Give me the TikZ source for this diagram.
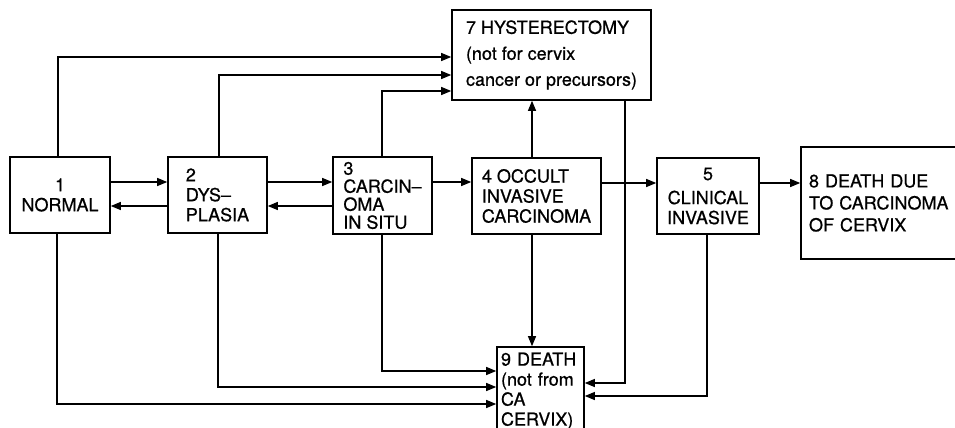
\documentclass[tikz,border=0pt]{standalone}
\usepackage{fontspec}
\setmainfont{TeX Gyre Heros}[FakeBold=0.7]
\usetikzlibrary{arrows.meta}
\begin{document}
\begin{tikzpicture}[x=1pt,y=-1pt,
  box/.style={draw, line width=1.6pt, inner sep=0pt, align=center,
    font=\fontsize{18}{20}\selectfont},
  lbox/.style={box, align=left},
  arr/.style={line width=1.1pt, -{Triangle[length=10pt,width=8pt]}},
  ln/.style={line width=1.1pt}]
\useasboundingbox (0,0) rectangle (955,428);
\clip (0,0) rectangle (955,428);
\fill[white] (0,0) rectangle (955,428);
% boxes
\node[box, minimum width=100pt, minimum height=76pt] (n1) at (60,195) {1\\NORMAL};
\node[lbox, minimum width=99pt, minimum height=76pt] (n2) at (217.5,195) {2\\DYS–\\PLASIA};
\node[lbox, minimum width=99pt, minimum height=77pt, font=\fontsize{18}{18}\selectfont] (n3) at (382.5,195.5) {3\\CARCIN–\\OMA\\IN SITU};
\node[lbox, minimum width=129pt, minimum height=76pt] (n4) at (536.5,196) {4 OCCULT\\INVASIVE\\CARCINOMA};
\node[box, minimum width=102pt, minimum height=76pt] (n5) at (708,196) {5\\[4pt]CLINICAL\\INVASIVE};
\node[lbox, minimum width=199pt, minimum height=90pt, font=\fontsize{18}{26}\selectfont] (n7) at (551.5,55) {7 HYSTERECTOMY\\(not for cervix\\cancer or precursors)};
\node[lbox, minimum width=200pt, minimum height=112pt, text width=184pt, inner xsep=8pt, font=\fontsize{18}{22}\selectfont] (n8) at (901,203) {8 DEATH DUE\\TO CARCINOMA\\OF CERVIX};
\node[lbox, minimum width=85pt, minimum height=88pt, text width=79pt, inner xsep=4pt] (n9) at (540.5,391) {9 DEATH\\(not from\\CA\\CERVIX)};
% horizontal progressions / regressions
\draw[arr] (n1.east |- 0,182) -- (n2.west |- 0,182);
\draw[arr] (n2.west |- 0,206) -- (n1.east |- 0,206);
\draw[arr] (n2.east |- 0,182) -- (n3.west |- 0,182);
\draw[arr] (n3.west |- 0,206) -- (n2.east |- 0,206);
\draw[arr] (n3.east |- 0,182) -- (n4.west |- 0,182);
\draw[arr] (n4.east |- 0,183) -- (n5.west |- 0,183);
\draw[arr] (n5.east |- 0,183) -- (n8.west |- 0,183);
% to hysterectomy
\draw[arr] (n1.north -| 58,0) |- (n7.west |- 0,57);
\draw[arr] (n2.north -| 219,0) |- (n7.west |- 0,75);
\draw[arr] (n3.north -| 382,0) |- (n7.west |- 0,91);
\draw[arr] (n4.north -| 532,0) -- (n7.south -| 532,0);
% to death (not from CA cervix)
\draw[arr] (n4.south -| 532,0) -- (n9.north -| 532,0);
\draw[arr] (n7.south -| 625,0) |- (n9.east |- 0,383);
\draw[arr] (n5.south -| 707,0) |- (n9.east |- 0,396);
\draw[arr] (n3.south -| 382,0) |- (n9.west |- 0,371);
\draw[arr] (n2.south -| 218,0) |- (n9.west |- 0,387);
\draw[arr] (n1.south -| 57,0) |- (n9.west |- 0,404);
\end{tikzpicture}
\end{document}
